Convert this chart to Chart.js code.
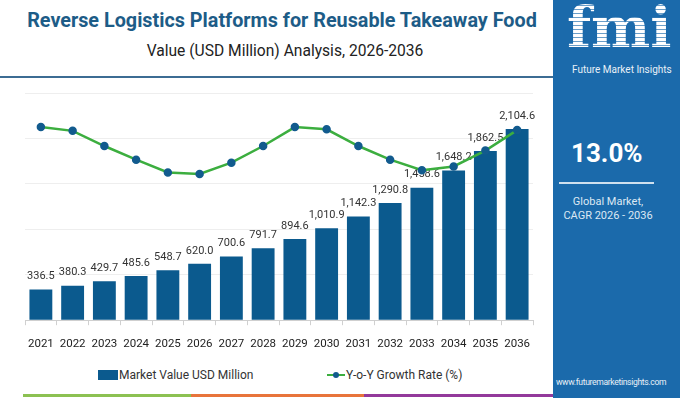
<!DOCTYPE html>
<html>
<head>
<meta charset="utf-8">
<script src="https://cdn.jsdelivr.net/npm/chart.js@4.4.1/dist/chart.umd.min.js"></script>
<style>
  body { margin: 0; width: 680px; height: 400px; overflow: hidden; background: #fff; font-family: Roboto, sans-serif; position: relative; }
  .abs { position: absolute; white-space: nowrap; }
  #title { left: 0; width: 564px; top: 9px; text-align: center; font-weight: 700; font-size: 19.8px; color: #1d5c87; }
  #subtitle { left: 0; width: 570px; top: 42px; text-align: center; font-size: 15.6px; color: #222; }
  #rule { left: 0; top: 76px; width: 553px; height: 2px; background: #3c6c93; }
  #wrap { left: 0; top: 80px; width: 553px; height: 283px; }
  .legend { top: 368px; font-size: 12px; color: #333; display: flex; align-items: center; }
  #strip1 { left: 23px; top: 394px; width: 168px; height: 3px; background: #8cc152; }
  #strip2 { left: 191px; top: 394px; width: 173px; height: 3px; background: #e8743b; }
  #strip3 { left: 364px; top: 394px; width: 189px; height: 3px; background: #93399b; }
  #panel { left: 553px; top: 0; width: 127px; height: 398px; background: #1b6aab; color: #fff; overflow: hidden; }
  #fmi { left: 14px; top: -6px; font-family: "DejaVu Serif", serif; font-weight: 700; font-size: 56px;
         background: repeating-linear-gradient(#fff 0 3px, rgba(255,255,255,0.35) 3px 4px);
         -webkit-background-clip: text; background-clip: text; color: transparent; }
  #fmiName { left: 19px; top: 64px; font-size: 10px; color: #e8f0f7; }
  #cagr { left: 18px; top: 138px; font-size: 26px; font-weight: 700; }
  #sep { left: 6px; top: 182px; width: 95px; height: 2px; background: #cfe0ee; }
  #glob { left: 0; width: 110px; text-align: center; top: 195px; font-size: 11px; color: #dce8f3; line-height: 14px; }
  #url { left: 3px; top: 377px; font-size: 8.6px; letter-spacing: -0.35px; color: #e8f0f7; }
</style>
</head>
<body>
<div id="title" class="abs">Reverse Logistics Platforms for Reusable Takeaway Food</div>
<div id="subtitle" class="abs">Value (USD Million) Analysis, 2026-2036</div>
<div id="rule" class="abs"></div>
<div id="wrap" class="abs"><canvas id="chart"></canvas></div>

<div class="legend abs" style="left:98px;">
  <span style="display:inline-block;width:20px;height:10px;background:#0b5a8e;margin-right:1px;"></span>Market Value USD Million
</div>
<div class="legend abs" style="left:327px;">
  <span style="position:relative;display:inline-block;width:18px;height:10px;margin-right:1px;">
    <span style="position:absolute;left:0;top:4px;width:18px;height:2px;background:#3cae3f;"></span>
    <span style="position:absolute;left:6px;top:2px;width:6px;height:6px;border-radius:3px;background:#125b8e;"></span>
  </span>Y-o-Y Growth Rate (%)
</div>

<div id="strip1" class="abs"></div>
<div id="strip2" class="abs"></div>
<div id="strip3" class="abs"></div>

<div id="panel" class="abs">
  <div id="fmi" class="abs">fmi</div>
  <div id="fmiName" class="abs">Future Market Insights</div>
  <div id="cagr" class="abs">13.0%</div>
  <div id="sep" class="abs"></div>
  <div id="glob" class="abs">Global Market,<br>CAGR 2026 - 2036</div>
  <div id="url" class="abs">www.futuremarketinsights.com</div>
</div>

<script>
// chart data
const years = ["2021", "2022", "2023", "2024", "2025", "2026", "2027", "2028",
  "2029", "2030", "2031", "2032", "2033", "2034", "2035", "2036"];
const marketValue = [336.5, 380.3, 429.7, 485.6, 548.7, 620.0, 700.6, 791.7,
  894.6, 1010.9, 1142.3, 1290.8, 1458.6, 1648.2, 1862.5, 2104.6];
// growth line (%)
const growthRate = [13.55, 13.50, 13.30, 13.12, 12.95, 12.93, 13.08, 13.30,
  13.55, 13.52, 13.30, 13.12, 12.98, 13.03, 13.24, 13.51];

const fmt = (v) => v.toLocaleString("en-US", { minimumFractionDigits: 1, maximumFractionDigits: 1 });

// value labels above the bars, drawn before the line so the line sits on top
const barLabels = {
  id: "barLabels",
  afterDatasetDraw(chart, args) {
    if (args.index !== 0) return;
    const ctx = chart.ctx;
    ctx.save();
    ctx.font = "11px Roboto";
    ctx.fillStyle = "#333";
    ctx.textAlign = "center";
    ctx.textBaseline = "middle";
    args.meta.data.forEach((bar, i) => {
      ctx.fillText(fmt(marketValue[i]), bar.x, bar.y - 13);
    });
    ctx.restore();
  },
};

new Chart(document.getElementById("chart"), {
  data: {
    labels: years,
    datasets: [
      {
        type: "bar",
        label: "Market Value USD Million",
        data: marketValue,
        backgroundColor: "#0b5a8e",
        barPercentage: 0.72,
        categoryPercentage: 1,
        yAxisID: "y",
        order: 2,
      },
      {
        type: "line",
        label: "Y-o-Y Growth Rate (%)",
        data: growthRate,
        borderColor: "#3cae3f",
        borderWidth: 2.5,
        pointBackgroundColor: "#125b8e",
        pointBorderColor: "#125b8e",
        pointRadius: 3,
        tension: 0,
        yAxisID: "y1",
        order: 1,
      },
    ],
  },
  options: {
    responsive: true,
    maintainAspectRatio: false,
    animation: false,
    layout: { padding: { top: 13, left: 25, right: 20, bottom: 0 } },
    plugins: { legend: { display: false }, tooltip: { enabled: false } },
    scales: {
      x: {
        grid: { drawOnChartArea: false, tickLength: 5, color: "#d0d0d0" },
        border: { color: "#cfcfcf" },
        ticks: { color: "#222", padding: 12, minRotation: 0, maxRotation: 0, autoSkip: false,
          font: { family: "Roboto", size: 11.5 } },
      },
      y: {
        min: 0,
        max: 2500,
        ticks: { display: false, stepSize: 500 },
        grid: { color: "#eeeeee", drawTicks: false },
        border: { display: false },
      },
      y1: { display: false, min: 11, max: 14 },
    },
  },
  plugins: [barLabels],
});
</script>
</body>
</html>
